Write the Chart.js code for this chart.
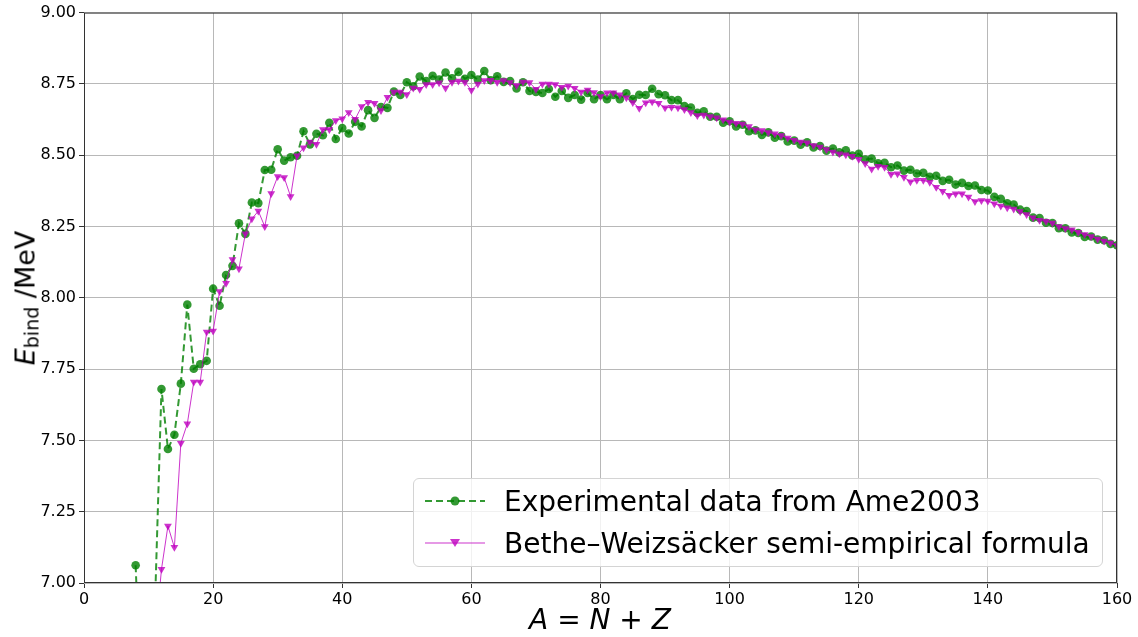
<!DOCTYPE html>
<html lang="en">
<head>
<meta charset="UTF-8">
<title>Binding energy per nucleon</title>
<script src="https://cdn.jsdelivr.net/npm/chart.js"></script>
<style>
  body { margin: 0; background: #fff; font-family: "DejaVu Sans", sans-serif; }
  #wrap { position: relative; width: 1138px; height: 637px; }
  #ytitle { position: absolute; left: 26px; top: 298px; transform: translate(-50%, -50%) rotate(-90deg); font-size: 27px; white-space: nowrap; color: #000; }
  #ytitle sub { font-size: 19px; vertical-align: -4px; }
  #xtitle { position: absolute; left: 600px; top: 619px; transform: translate(-50%, -50%); font-size: 28px; white-space: nowrap; color: #000; }
  #legend { position: absolute; left: 413px; top: 478px; width: 690px; height: 89px; box-sizing: border-box; border: 1px solid #d4d4d4; border-radius: 6px; background: rgba(255,255,255,0.8); font-size: 28px; color: #000; }
  .row { position: absolute; left: 11px; height: 40px; display: flex; align-items: center; white-space: nowrap; }
  .row svg { margin-right: 19px; }
</style>
</head>
<body>
<div id="wrap">
  <canvas id="chart" width="1138" height="637"></canvas>
  <div id="ytitle"><i>E</i><sub>bind</sub> /MeV</div>
  <div id="xtitle"><i>A</i> = <i>N</i> + <i>Z</i></div>
  <div id="legend">
    <div class="row" style="top:2px">
      <svg width="60" height="20"><line x1="0" y1="10" x2="60" y2="10" stroke="rgba(0,128,0,0.8)" stroke-width="2" stroke-dasharray="7,4"/><circle cx="30" cy="10" r="4.5" fill="rgba(0,128,0,0.8)"/></svg>
      <span>Experimental data from Ame2003</span>
    </div>
    <div class="row" style="top:44px">
      <svg width="60" height="20"><line x1="0" y1="10" x2="60" y2="10" stroke="rgba(191,0,191,0.8)" stroke-width="1"/><polygon points="25,6 35,6 30,14" fill="rgba(191,0,191,0.8)"/></svg>
      <span>Bethe–Weizsäcker semi-empirical formula</span>
    </div>
  </div>
</div>
<script>
// mass numbers A
const massNumbers = [
  8, 9, 10, 11, 12, 13, 14, 15, 16, 17, 18, 19, 20, 21, 22, 23, 24, 25, 26, 27,
  28, 29, 30, 31, 32, 33, 34, 35, 36, 37, 38, 39, 40, 41, 42, 43, 44, 45, 46, 47,
  48, 49, 50, 51, 52, 53, 54, 55, 56, 57, 58, 59, 60, 61, 62, 63, 64, 65, 66, 67,
  68, 69, 70, 71, 72, 73, 74, 75, 76, 77, 78, 79, 80, 81, 82, 83, 84, 85, 86, 87,
  88, 89, 90, 91, 92, 93, 94, 95, 96, 97, 98, 99, 100, 101, 102, 103, 104, 105, 106, 107,
  108, 109, 110, 111, 112, 113, 114, 115, 116, 117, 118, 119, 120, 121, 122, 123, 124, 125, 126, 127,
  128, 129, 130, 131, 132, 133, 134, 135, 136, 137, 138, 139, 140, 141, 142, 143, 144, 145, 146, 147,
  148, 149, 150, 151, 152, 153, 154, 155, 156, 157, 158, 159, 160
];

// binding energy per nucleon (MeV), Ame2003
const expBinding = [
  7.062, 6.463, 6.475, 6.928, 7.680, 7.470, 7.520, 7.699, 7.976, 7.751, 7.767, 7.779, 8.032, 7.972, 8.080, 8.112, 8.261, 8.224, 8.334, 8.332,
  8.448, 8.449, 8.521, 8.481, 8.493, 8.498, 8.584, 8.538, 8.575, 8.570, 8.614, 8.557, 8.595, 8.576, 8.617, 8.601, 8.658, 8.631, 8.669, 8.666,
  8.723, 8.711, 8.756, 8.742, 8.776, 8.760, 8.778, 8.765, 8.790, 8.770, 8.792, 8.768, 8.781, 8.765, 8.795, 8.763, 8.777, 8.757, 8.760, 8.734,
  8.756, 8.725, 8.722, 8.718, 8.732, 8.705, 8.725, 8.701, 8.711, 8.695, 8.718, 8.696, 8.711, 8.696, 8.711, 8.696, 8.717, 8.697, 8.712, 8.711,
  8.733, 8.714, 8.710, 8.693, 8.693, 8.672, 8.667, 8.649, 8.654, 8.635, 8.635, 8.614, 8.619, 8.601, 8.607, 8.584, 8.587, 8.571, 8.580, 8.561,
  8.567, 8.548, 8.551, 8.537, 8.545, 8.527, 8.532, 8.516, 8.523, 8.510, 8.517, 8.499, 8.505, 8.485, 8.488, 8.472, 8.473, 8.458, 8.464, 8.446,
  8.449, 8.436, 8.438, 8.424, 8.428, 8.410, 8.414, 8.397, 8.403, 8.392, 8.394, 8.378, 8.376, 8.354, 8.347, 8.331, 8.327, 8.309, 8.304, 8.281,
  8.280, 8.263, 8.262, 8.244, 8.244, 8.229, 8.227, 8.213, 8.215, 8.204, 8.202, 8.189, 8.184
];

// semi-empirical formula (MeV)
const semfBinding = [
  6.00, 6.20, 6.45, 6.80, 7.048, 7.200, 7.125, 7.490, 7.558, 7.705, 7.705, 7.880, 7.884, 8.022, 8.051, 8.134, 8.102, 8.225, 8.277, 8.304,
  8.250, 8.366, 8.425, 8.422, 8.355, 8.498, 8.526, 8.546, 8.538, 8.590, 8.590, 8.622, 8.628, 8.650, 8.626, 8.671, 8.686, 8.682, 8.657, 8.703,
  8.722, 8.722, 8.713, 8.736, 8.731, 8.748, 8.748, 8.754, 8.736, 8.756, 8.760, 8.756, 8.728, 8.750, 8.762, 8.763, 8.756, 8.762, 8.755, 8.744,
  8.757, 8.755, 8.731, 8.750, 8.750, 8.748, 8.738, 8.743, 8.735, 8.722, 8.729, 8.720, 8.706, 8.719, 8.719, 8.712, 8.701, 8.685, 8.665, 8.684,
  8.687, 8.682, 8.666, 8.668, 8.666, 8.660, 8.650, 8.639, 8.641, 8.636, 8.631, 8.624, 8.616, 8.612, 8.609, 8.601, 8.589, 8.587, 8.580, 8.575,
  8.569, 8.560, 8.552, 8.546, 8.544, 8.534, 8.529, 8.520, 8.511, 8.505, 8.502, 8.496, 8.486, 8.471, 8.452, 8.461, 8.458, 8.433, 8.435, 8.423,
  8.407, 8.412, 8.412, 8.405, 8.388, 8.374, 8.360, 8.365, 8.365, 8.353, 8.338, 8.341, 8.339, 8.330, 8.322, 8.316, 8.311, 8.303, 8.292, 8.281,
  8.272, 8.268, 8.262, 8.250, 8.243, 8.239, 8.230, 8.222, 8.215, 8.206, 8.199, 8.192, 8.183
];

const xTicks = [0, 20, 40, 60, 80, 100, 120, 140, 160];
const yTicks = [7.00, 7.25, 7.50, 7.75, 8.00, 8.25, 8.50, 8.75, 9.00];

const green = "rgba(0,128,0,0.8)";
const magenta = "rgba(191,0,191,0.8)";

function toPoints(vals) {
    return vals.map((v, i) => ({ x: massNumbers[i], y: v }));
}

// box around the plot, like matplotlib spines
const frame = {
    id: "frame",
    afterDatasetsDraw(chart) {
        const a = chart.chartArea;
        const ctx = chart.ctx;
        ctx.save();
        ctx.strokeStyle = "#333";
        ctx.lineWidth = 1;
        ctx.strokeRect(a.left + 0.5, a.top + 0.5, a.right - a.left - 1, a.bottom - a.top - 1);
        ctx.restore();
    }
};

new Chart(document.getElementById("chart"), {
    type: "line",
    data: {
        datasets: [{
            label: "Experimental data from Ame2003",
            data: toPoints(expBinding),
            borderColor: green,
            backgroundColor: green,
            borderWidth: 2,
            borderDash: [7, 4],
            pointStyle: "circle",
            pointRadius: 4.3,
            pointBorderWidth: 0,
            order: 1
        }, {
            label: "Bethe–Weizsäcker semi-empirical formula",
            data: toPoints(semfBinding),
            borderColor: magenta,
            backgroundColor: magenta,
            borderWidth: 1,
            pointStyle: "triangle",
            rotation: 180,
            pointRadius: 4.5,
            pointBorderWidth: 0,
            order: 0
        }]
    },
    options: {
        responsive: false,
        animation: false,
        devicePixelRatio: 1,
        layout: { padding: { left: 0, top: 12, right: 21, bottom: 0 } },
        plugins: { legend: { display: false }, tooltip: { enabled: false } },
        scales: {
            x: {
                type: "linear",
                min: 0,
                max: 160,
                afterBuildTicks: s => { s.ticks = xTicks.map(v => ({ value: v })); },
                afterFit: s => { s.height = 54; },
                ticks: { color: "#000", font: { family: "DejaVu Sans", size: 16 }, padding: 2, maxRotation: 0,
                         callback: v => String(v) },
                grid: { color: "#b8b8b8", lineWidth: 1, tickLength: 5, tickColor: "#333" },
                border: { display: false }
            },
            y: {
                min: 7,
                max: 9,
                afterBuildTicks: s => { s.ticks = yTicks.map(v => ({ value: v })); },
                afterFit: s => { s.width = 84; },
                ticks: { color: "#000", font: { family: "DejaVu Sans", size: 16 }, padding: 3,
                         callback: v => Number(v).toFixed(2) },
                grid: { color: "#b8b8b8", lineWidth: 1, tickLength: 5, tickColor: "#333" },
                border: { display: false }
            }
        }
    },
    plugins: [frame]
});
</script>
</body>
</html>
